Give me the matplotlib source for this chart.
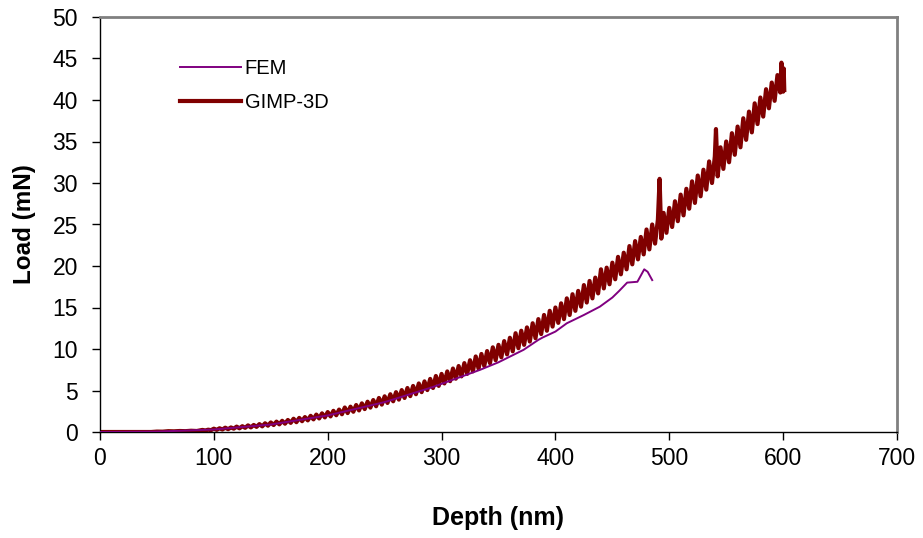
import matplotlib
matplotlib.use("Agg")
import matplotlib.pyplot as plt

plt.rcParams['font.family'] = ['Liberation Sans', 'DejaVu Sans']

# GIMP-3D (noisy simulation result), depth in nm, load in mN
gimp_depth = [0, 5, 10, 15, 20, 25, 30, 35, 40, 45, 50, 55, 60, 65, 70, 75, 80, 85,
              90, 92.5, 95, 97.5, 100, 102.5, 105, 107.5, 110, 112.5, 115, 117.5,
              120, 122.5, 125, 127.5, 130, 132.5, 135, 137.5, 140, 142.5, 145, 147.5,
              150, 152.5, 155, 157.5, 160, 162.5, 165, 167.5, 170, 172.5, 175, 177.5,
              180, 182.5, 185, 187.5, 190, 192.5, 195, 197.5, 200, 202.5, 205, 207.5,
              210, 212.5, 215, 217.5, 220, 222.5, 225, 227.5, 230, 232.5, 235, 237.5,
              240, 242.5, 245, 247.5, 250, 252.5, 255, 257.5, 260, 262.5, 265, 267.5,
              270, 272.5, 275, 277.5, 280, 282.5, 285, 287.5, 290, 292.5, 295, 297.5,
              300, 302.5, 305, 307.5, 310, 312.5, 315, 317.5, 320, 322.5, 325, 327.5,
              330, 332.5, 335, 337.5, 340, 342.5, 345, 347.5, 350, 352.5, 355, 357.5,
              360, 362.5, 365, 367.5, 370, 372.5, 375, 377.5, 380, 382.5, 385, 387.5,
              390, 392.5, 395, 397.5, 400, 402.5, 405, 407.5, 410, 412.5, 415, 417.5,
              420, 422.5, 425, 427.5, 430, 432.5, 435, 437.5, 440, 442.5, 445, 447.5,
              450, 452.5, 455, 457.5, 460, 462.5, 465, 467.5, 470, 472.5, 475, 477.5,
              480, 482.5, 485, 487.5, 490, 491.5, 493, 495, 497.5, 500, 502.5, 505, 507.5,
              510, 512.5, 515, 517.5, 520, 522.5, 525, 527.5, 530, 532.5, 535, 537.5,
              540, 541, 542.5, 545, 547.5, 550, 552.5, 555, 557.5, 560, 562.5, 565, 567.5,
              570, 572.5, 575, 577.5, 580, 582.5, 585, 587.5, 590, 592.5, 595, 597.5,
              598.5, 600, 600.5, 601]
gimp_load = [0, 0, 0, 0, 0, 0, 0, 0, 0, 0, 0.05, 0.04, 0.1, 0.08, 0.12, 0.1, 0.15, 0.12,
             0.25, 0.18, 0.28, 0.22, 0.4, 0.26, 0.45, 0.3, 0.52, 0.34, 0.55, 0.4,
             0.65, 0.44, 0.7, 0.5, 0.8, 0.55, 0.85, 0.62, 0.95, 0.68, 1.05, 0.76,
             1.15, 0.84, 1.25, 0.92, 1.35, 1.0, 1.45, 1.1, 1.6, 1.18, 1.7, 1.3,
             1.8, 1.4, 1.95, 1.52, 2.1, 1.63, 2.25, 1.76, 2.4, 1.88, 2.55, 2.02,
             2.7, 2.14, 2.95, 2.28, 3.05, 2.44, 3.25, 2.6, 3.45, 2.76, 3.65, 2.94,
             3.85, 3.1, 4.1, 3.3, 4.3, 3.5, 4.55, 3.7, 4.8, 3.9, 5.05, 4.1,
             5.3, 4.32, 5.55, 4.55, 5.85, 4.8, 6.1, 5.05, 6.4, 5.3, 6.75, 5.55,
             7.0, 5.85, 7.3, 6.12, 7.65, 6.42, 7.95, 6.7, 8.3, 7.0, 8.65, 7.3,
             9.1, 7.62, 9.4, 7.95, 9.75, 8.3, 10.2, 8.65, 10.5, 9.0, 10.95, 9.35,
             11.35, 9.72, 11.9, 10.1, 12.2, 10.5, 12.6, 10.9, 13.1, 11.3, 13.6, 11.8,
             14.1, 12.2, 14.6, 12.7, 15.0, 13.15, 15.5, 13.6, 16.1, 14.1, 16.6, 14.6,
             17.0, 15.1, 17.7, 15.6, 18.2, 16.1, 18.6, 16.7, 19.6, 17.3, 19.8, 17.8,
             20.4, 18.4, 21.1, 19.0, 21.6, 19.6, 22.4, 20.2, 23.0, 20.8, 23.5, 21.4,
             24.4, 22.0, 25.0, 22.7, 25.6, 30.5, 23.3, 26.4, 24.0, 27.0, 24.7, 27.8, 25.4,
             28.6, 26.1, 29.3, 26.9, 30.2, 27.6, 30.9, 28.4, 31.6, 29.2, 32.6, 30.0,
             33.2, 36.5, 30.8, 34.3, 31.7, 35.0, 32.5, 36.0, 33.4, 36.8, 34.3, 37.8, 35.2,
             38.6, 36.1, 39.6, 37.1, 40.3, 38.0, 41.3, 39.0, 42.1, 39.9, 43.0, 40.9,
             44.5, 41.0, 43.8, 41.2]

# FEM result
fem_depth = [0, 50, 100, 150, 200, 250, 292, 334, 350, 372, 385, 389, 400, 410, 425, 439,
             450, 456, 463, 472, 478, 481, 485]
fem_load = [0, 0.05, 0.3, 0.9, 2.0, 3.6, 5.4, 7.5, 8.4, 9.9, 11.1, 11.4, 12.1, 13.1, 14.1, 15.1,
            16.2, 17.0, 18.0, 18.1, 19.6, 19.3, 18.3]

x_ticks = [0, 100, 200, 300, 400, 500, 600, 700]
y_ticks = [0, 5, 10, 15, 20, 25, 30, 35, 40, 45, 50]

fig = plt.figure(figsize=(9.23, 5.38), dpi=100)
ax = fig.add_axes([100/923, 1 - 432/538, 797/923, 415/538])

ax.plot(fem_depth, fem_load, color='#800080', lw=1.4, label='FEM', zorder=3)
ax.plot(gimp_depth, gimp_load, color='#800000', lw=3.0, label='GIMP-3D', zorder=2)

ax.set_xlim(0, 700)
ax.set_ylim(0, 50)
ax.set_xticks(x_ticks)
ax.set_yticks(y_ticks)
ax.tick_params(axis='both', direction='out', length=6, width=1, labelsize=16.5,
               top=False, right=False)
ax.tick_params(axis='y', pad=10)
ax.tick_params(axis='x', pad=5)

for s in ['left', 'bottom']:
    ax.spines[s].set_color('black')
    ax.spines[s].set_linewidth(1)
for s in ['top', 'right']:
    ax.spines[s].set_color('#808080')
    ax.spines[s].set_linewidth(2)

ax.set_xlabel('Depth (nm)', fontsize=18, fontweight='bold', labelpad=26)
ax.set_ylabel('Load (mN)', fontsize=17.5, fontweight='bold', labelpad=12)

ax.legend(loc='upper left', bbox_to_anchor=(0.078, 0.942), frameon=False, fontsize=14.5,
          handlelength=3.0, handletextpad=0.2, labelspacing=0.75)

fig.savefig('out.png', dpi=100)
